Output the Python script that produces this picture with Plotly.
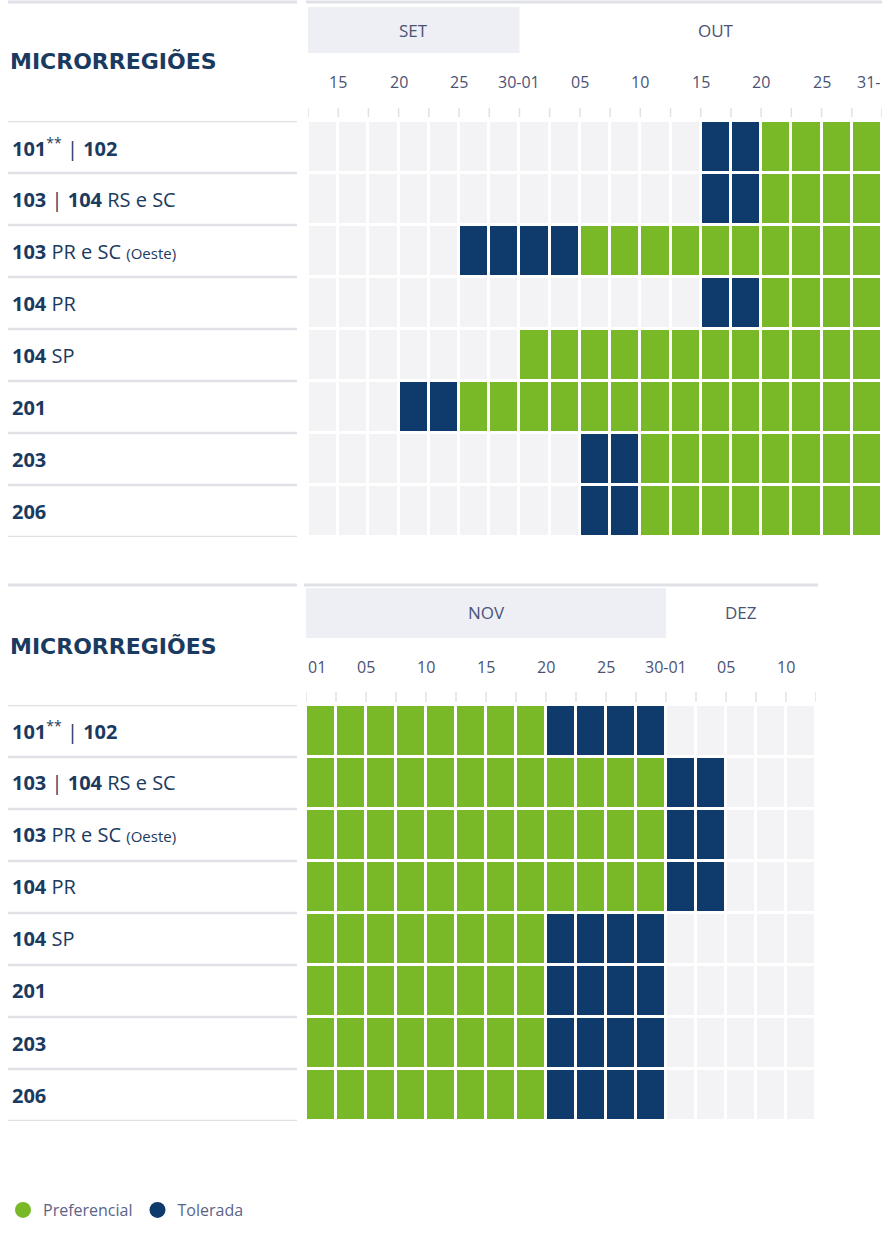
import re
import plotly.graph_objects as go

# ---------------- data ----------------
regions = ["101** | 102", "103 | 104 RS e SC", "103 PR e SC (Oeste)", "104 PR",
           "104 SP", "201", "203", "206"]

# Top block: SET 15 -> OUT 31, 19 half-pentad columns
top_ncols = 19
top_months = ["SET", "OUT"]
top_month_start = [0, 7]
top_month_end = [7, 20]
top_month_boxed = [True, False]
top_tick_labels = ["15", "20", "25", "30-01", "05", "10", "15", "20", "25", "31-"]
top_tick_cols = [1, 3, 5, 7, 9, 11, 13, 15, 17, 19]
# (start column, end column) per region
top_tolerada = [(13, 15), (13, 15), (5, 9), (13, 15), None, (3, 5), (9, 11), (9, 11)]
top_preferencial = [(15, 19), (15, 19), (9, 19), (15, 19), (7, 19), (5, 19), (11, 19), (11, 19)]

# Bottom block: NOV 01 -> DEZ 10, 17 half-pentad columns
bot_ncols = 17
bot_months = ["NOV", "DEZ"]
bot_month_start = [0, 12]
bot_month_end = [12, 17]
bot_month_boxed = [True, False]
bot_tick_labels = ["01", "05", "10", "15", "20", "25", "30-01", "05", "10"]
bot_tick_cols = [0, 2, 4, 6, 8, 10, 12, 14, 16]
bot_preferencial = [(0, 8), (0, 12), (0, 12), (0, 12), (0, 8), (0, 8), (0, 8), (0, 8)]
bot_tolerada = [(8, 12), (12, 14), (12, 14), (12, 14), (8, 12), (8, 12), (8, 12), (8, 12)]

legend_names = ["Preferencial", "Tolerada"]

# ---------------- styles ----------------
W, H = 882, 1250
C_EMPTY = "#f3f3f6"
C_PREF = "#79b927"
C_TOL = "#0f3b6c"
C_NAVY = "#1b3a60"
C_TICK = "#4b5375"
C_LINE = "#e0e1e7"
C_BOX = "#eeeff4"
FONT = "Open Sans"


def px(x):
    return x / W


def py(y):
    return 1 - y / H


def build_z(ncols, pref, tol):
    z = []
    for p, t in zip(pref, tol):
        row = [0] * ncols
        if p:
            for c in range(p[0], p[1]):
                row[c] = 1
        if t:
            for c in range(t[0], t[1]):
                row[c] = 2
        z.append(row)
    return z


def fmt(label):
    s = re.sub(r"(\d{3})", r"<b>\1</b>", label)
    s = s.replace("**", "<sup>**</sup>")
    s = s.replace("(Oeste)", "<span style='font-size:15px'>(Oeste)</span>")
    return s


colorscale = [[0, C_EMPTY], [0.33, C_EMPTY], [0.34, C_PREF], [0.66, C_PREF],
              [0.67, C_TOL], [1, C_TOL]]

fig = go.Figure()

blocks = [
    dict(ncols=top_ncols, pref=top_preferencial, tol=top_tolerada, xa="x", ya="y",
         xdom=(308, 882), ydom=(121, 537), months=top_months, ms=top_month_start,
         me=top_month_end, mb=top_month_boxed, ticks=top_tick_labels, tcols=top_tick_cols,
         line_y=2, line_x2=882, box=(7, 53), title_y=62, tick_y=82, tickmark=(108, 117)),
    dict(ncols=bot_ncols, pref=bot_preferencial, tol=bot_tolerada, xa="x2", ya="y2",
         xdom=(306, 816), ydom=(705, 1121), months=bot_months, ms=bot_month_start,
         me=bot_month_end, mb=bot_month_boxed, ticks=bot_tick_labels, tcols=bot_tick_cols,
         line_y=585, line_x2=818, box=(588, 638), title_y=647, tick_y=667, tickmark=(692, 702)),
]

shapes = []
annotations = []

for i, b in enumerate(blocks):
    z = build_z(b["ncols"], b["pref"], b["tol"])
    fig.add_trace(go.Heatmap(
        z=z, x=[c + 0.5 for c in range(b["ncols"])], y=list(range(len(regions))),
        colorscale=colorscale, zmin=0, zmax=2, showscale=False, xgap=3, ygap=3,
        xaxis=b["xa"], yaxis=b["ya"], hoverinfo="skip", showlegend=False))
    sfx = "" if i == 0 else "2"
    fig.layout["xaxis" + sfx] = dict(domain=[px(b["xdom"][0]), px(b["xdom"][1])],
                                     range=[0, b["ncols"]], visible=False, fixedrange=True,
                                     anchor="y" + sfx)
    fig.layout["yaxis" + sfx] = dict(domain=[py(b["ydom"][1]), py(b["ydom"][0])],
                                     range=[len(regions) - 0.5, -0.5], visible=False,
                                     fixedrange=True, anchor="x" + sfx)
    xr = "x" + sfx
    yr = "y" + sfx
    # top separator lines
    shapes.append(dict(type="line", xref="paper", yref="paper", x0=px(8), x1=px(297),
                       y0=py(b["line_y"]), y1=py(b["line_y"]), line=dict(color=C_LINE, width=3)))
    shapes.append(dict(type="line", xref="paper", yref="paper", x0=px(b["xdom"][0] - 2),
                       x1=px(b["line_x2"]), y0=py(b["line_y"]), y1=py(b["line_y"]),
                       line=dict(color=C_LINE, width=3)))
    # month boxes / labels
    for m, s, e, boxed in zip(b["months"], b["ms"], b["me"], b["mb"]):
        if boxed:
            shapes.append(dict(type="rect", xref=xr, yref="paper", x0=s, x1=e,
                               y0=py(b["box"][1]), y1=py(b["box"][0]),
                               fillcolor=C_BOX, line=dict(width=0), layer="below"))
        annotations.append(dict(text=m, xref=xr, yref="paper", x=(s + e) / 2,
                                y=py((b["box"][0] + b["box"][1]) / 2), showarrow=False,
                                font=dict(family=FONT, size=17, color=C_TICK),
                                xanchor="center", yanchor="middle"))
    # title
    annotations.append(dict(text="<b>MICRORREGIÕES</b>", xref="paper", yref="paper",
                            x=px(8), y=py(b["title_y"]), xanchor="left", yanchor="middle",
                            showarrow=False,
                            font=dict(family="DejaVu Sans", size=22, color=C_NAVY)))
    # tick labels
    for lab, c in zip(b["ticks"], b["tcols"]):
        anchor = "center"
        if c == 0:
            anchor = "left"
        elif c == b["ncols"]:
            anchor = "right"
        annotations.append(dict(text=lab, xref=xr, yref="paper", x=c, y=py(b["tick_y"]),
                                xanchor=anchor, yanchor="middle", showarrow=False,
                                font=dict(family=FONT, size=16, color=C_TICK)))
    # tick marks
    for c in range(0, b["ncols"] + 1):
        shapes.append(dict(type="line", xref=xr, yref="paper", x0=c, x1=c,
                           y0=py(b["tickmark"][1]), y1=py(b["tickmark"][0]),
                           line=dict(color=C_LINE, width=1.5)))
    # row separator lines in label column
    for r in range(len(regions) + 1):
        shapes.append(dict(type="line", xref="paper", yref=yr, x0=px(8), x1=px(297),
                           y0=r - 0.5, y1=r - 0.5, line=dict(color=C_LINE, width=2.5)))
    # row labels
    for r, lab in enumerate(regions):
        annotations.append(dict(text=fmt(lab), xref="paper", yref=yr, x=px(10), y=r,
                                xanchor="left", yanchor="middle", showarrow=False,
                                font=dict(family=FONT, size=20, color=C_NAVY)))

# legend traces
for name, col in zip(legend_names, [C_PREF, C_TOL]):
    fig.add_trace(go.Scatter(x=[None], y=[None], mode="markers", name=name,
                             marker=dict(symbol="circle", size=21, color=col),
                             xaxis="x", yaxis="y"))

fig.update_layout(
    width=W, height=H, margin=dict(l=0, r=0, t=0, b=0),
    paper_bgcolor="white", plot_bgcolor="white",
    shapes=shapes, annotations=annotations,
    showlegend=True,
    legend=dict(orientation="h", x=px(3), y=py(1210), xanchor="left", yanchor="middle",
                font=dict(family=FONT, size=16, color="#5b6488"),
                itemsizing="trace", bgcolor="rgba(0,0,0,0)", itemwidth=30),
)

fig.write_html("out.html", config={"displayModeBar": False},
               post_script="document.body.style.margin='0';")
